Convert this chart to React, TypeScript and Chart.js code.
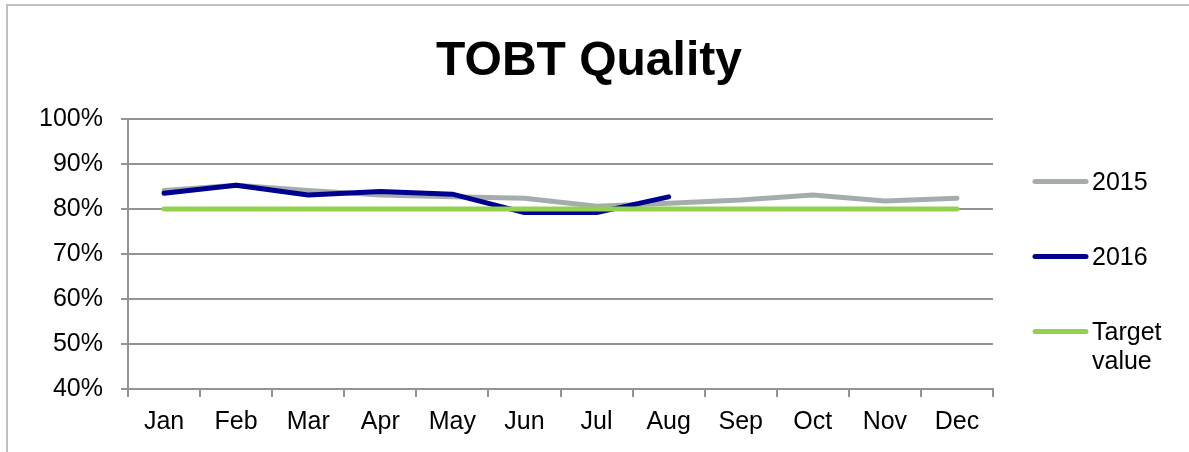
import React, { useEffect, useRef } from "react";
import { Chart, registerables } from "chart.js";

Chart.register(...registerables);

const months = ["Jan", "Feb", "Mar", "Apr", "May", "Jun", "Jul", "Aug", "Sep", "Oct", "Nov", "Dec"];
const values2015 = [84.1, 85.3, 84.1, 83.1, 82.7, 82.4, 80.6, 81.3, 82.0, 83.1, 81.8, 82.4];
const values2016 = [83.5, 85.3, 83.1, 83.9, 83.3, 79.2, 79.2, 82.7, null, null, null, null];
const targetValues = [80, 80, 80, 80, 80, 80, 80, 80, 80, 80, 80, 80];
const seriesNames = ["2015", "2016", "Target value"];
const chartTitle = "TOBT Quality";

const FONT = "'Liberation Sans', Arial, Helvetica, sans-serif";
const GRAY = "#A6ACAC";
const NAVY = "#000090";
const GREEN = "#92D050";
const GRID = "#939393";

const decorPlugin = {
  id: "decor",
  afterDraw(chart: any) {
    const ctx = chart.ctx;
    ctx.save();
    // frame
    ctx.strokeStyle = "#C0C0C0";
    ctx.lineWidth = 2;
    ctx.beginPath();
    ctx.moveTo(7, 452);
    ctx.lineTo(7, 5);
    ctx.lineTo(1189, 5);
    ctx.stroke();
    // title
    ctx.fillStyle = "#000";
    ctx.font = `bold 48px ${FONT}`;
    ctx.textAlign = "center";
    ctx.textBaseline = "alphabetic";
    ctx.fillText(chartTitle, 589, 75);
    // legend
    const colors = [GRAY, NAVY, GREEN];
    const ys = [181.5, 256.5, 331.5];
    ctx.font = `25px ${FONT}`;
    ctx.textAlign = "left";
    ctx.lineCap = "round";
    for (let i = 0; i < seriesNames.length; i++) {
      ctx.strokeStyle = colors[i];
      ctx.lineWidth = 5;
      ctx.beginPath();
      ctx.moveTo(1035, ys[i]);
      ctx.lineTo(1086, ys[i]);
      ctx.stroke();
      const words = seriesNames[i].split(" ");
      words.forEach((w: string, j: number) => {
        ctx.fillText(w, 1092, ys[i] + 8.5 + j * 28.5);
      });
    }
    ctx.restore();
  },
};

export default function App() {
  const ref = useRef<HTMLCanvasElement | null>(null);
  useEffect(() => {
    if (!ref.current) return;
    const chart = new Chart(ref.current, {
      type: "line",
      data: {
        labels: months,
        datasets: [
          {
            label: seriesNames[0],
            data: values2015,
            borderColor: GRAY,
            backgroundColor: GRAY,
            borderWidth: 5,
            pointRadius: 0,
            tension: 0,
            borderCapStyle: "round",
            borderJoinStyle: "round",
            order: 3,
          },
          {
            label: seriesNames[1],
            data: values2016,
            borderColor: NAVY,
            backgroundColor: NAVY,
            borderWidth: 5,
            pointRadius: 0,
            tension: 0,
            borderCapStyle: "round",
            borderJoinStyle: "round",
            spanGaps: false,
            order: 2,
          },
          {
            label: seriesNames[2],
            data: targetValues,
            borderColor: GREEN,
            backgroundColor: GREEN,
            borderWidth: 5,
            pointRadius: 0,
            tension: 0,
            borderCapStyle: "round",
            borderJoinStyle: "round",
            order: 1,
          },
        ],
      },
      options: {
        responsive: false,
        animation: false,
        layout: { padding: { left: 0, top: 119, right: 196, bottom: 0 } },
        plugins: {
          legend: { display: false },
          title: { display: false },
          tooltip: { enabled: false },
        },
        scales: {
          x: {
            type: "category",
            offset: true,
            afterFit: (s: any) => {
              s.height = 63;
            },
            grid: {
              offset: true,
              drawOnChartArea: false,
              drawTicks: true,
              tickLength: 8,
              color: GRID,
              lineWidth: 2,
            },
            border: { display: true, color: GRID, width: 2 },
            ticks: {
              color: "#000",
              font: { family: FONT, size: 25 },
              padding: 10,
              maxRotation: 0,
              autoSkip: false,
            },
          },
          y: {
            min: 40,
            max: 100,
            afterFit: (s: any) => {
              s.width = 128;
            },
            grid: {
              color: GRID,
              lineWidth: 2,
              tickLength: 7,
              drawTicks: true,
            },
            border: { display: true, color: GRID, width: 2 },
            ticks: {
              stepSize: 10,
              color: "#000",
              font: { family: FONT, size: 25 },
              padding: 18,
              callback: (v: any) => `${v}%`,
            },
          },
        },
      },
      plugins: [decorPlugin],
    } as any);
    return () => chart.destroy();
  }, []);
  return (
    <div style={{ position: "absolute", left: 0, top: 0, width: 1189, height: 452, background: "#fff" }}>
      <canvas ref={ref} width={1189} height={452} style={{ display: "block", width: 1189, height: 452 }} />
    </div>
  );
}
